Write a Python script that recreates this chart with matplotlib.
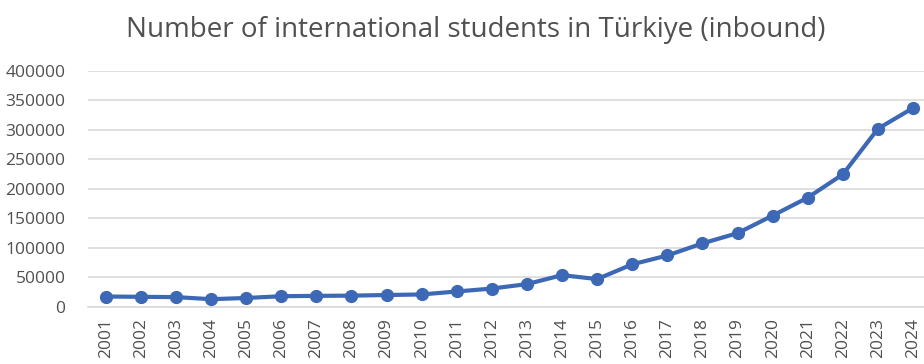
import matplotlib

matplotlib.use("Agg")

import matplotlib.pyplot as plt

# inbound international students
years = [str(y) for y in range(2001, 2025)]
students = [
    17500, 17000, 16500, 13000, 15000, 18000, 18600, 19000, 20000, 21000,
    26000, 31000, 38500, 53700, 47000, 72000, 87000, 107500, 124800, 154600,
    185000, 224500, 301700, 336800,
]
y_ticks = list(range(0, 400001, 50000))

plt.rcParams["font.family"] = ["Open Sans", "DejaVu Sans"]

fig = plt.figure(figsize=(9.24, 3.64), dpi=100)
ax = fig.add_axes([0.095, 0.157, 0.905, 0.649])

x = list(range(len(years)))
ax.plot(x, students, color="#3D68B5", lw=3.0, marker="o", ms=8.5,
        solid_joinstyle="round", zorder=3)

ax.set_xlim(-0.51, 23.31)
ax.set_ylim(0, 400000)
ax.set_yticks(y_ticks)
ax.set_yticklabels([str(v) for v in y_ticks])
ax.set_xticks(x)
ax.set_xticklabels(years, rotation=90)
ax.yaxis.grid(True, color="#D9D9D9", lw=1.2)
ax.set_axisbelow(True)
for side in ("top", "right", "left"):
    ax.spines[side].set_visible(False)
ax.spines["bottom"].set_color("#D9D9D9")
ax.spines["bottom"].set_linewidth(1.2)
ax.tick_params(axis="both", length=0, colors="#505050", labelsize=12.5)
ax.tick_params(axis="y", pad=16)
ax.tick_params(axis="x", pad=8)

fig.text(0.515, 0.918, "Number of international students in Türkiye (inbound)",
         ha="center", va="center", fontsize=20, color="#505050")

fig.savefig("out.png", dpi=100)
